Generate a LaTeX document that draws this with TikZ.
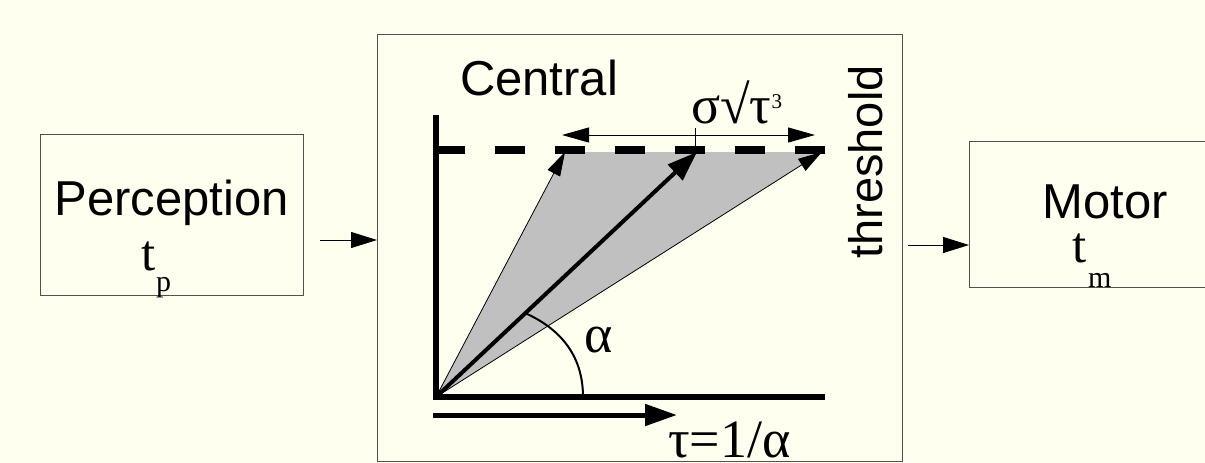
\documentclass[tikz,border=0pt]{standalone}
\usepackage{fontspec}
\setmainfont{Liberation Sans}
\newfontfamily\tnr{Liberation Serif}
\usetikzlibrary{arrows.meta}
\definecolor{bg}{HTML}{FFFFEF}
\definecolor{boxline}{HTML}{505050}
\definecolor{fan}{HTML}{C0C0C0}
\begin{document}
\begin{tikzpicture}[x=1pt,y=-1pt,
  sans/.style={font=\fontsize{49}{49}\selectfont, inner sep=0pt},
  serif/.style={font=\tnr\fontsize{54}{54}\selectfont, inner sep=0pt},
  box/.style={draw=boxline, line width=1pt, inner sep=0pt, anchor=north west},
  conn/.style={line width=1pt, -{Triangle[length=26pt,width=16pt]}},
  thinarrow/.style={line width=0.8pt, -{Triangle[length=24pt,width=14pt]}},
  thickarrow/.style={line width=4pt, -{Triangle[length=30pt,width=21pt]}},
  sub/.style={font=\tnr\fontsize{30}{30}\selectfont, inner sep=0pt, anchor=base west},
  tvar/.style={font=\tnr\fontsize{51}{51}\selectfont, inner sep=0pt, anchor=base west}
 ]
\fill[bg] (0,0) rectangle (1205,463);
\useasboundingbox (0,0) rectangle (1205,463);
\clip (0,0) rectangle (1205,463);

% boxes
\node[box, minimum width=263pt, minimum height=161pt] (perc) at (40,134) {};
\node[box, minimum width=525pt, minimum height=427pt] (central) at (377,34) {};
\node[box, minimum width=245pt, minimum height=146pt] (motor) at (969,141) {};

% connectors
\coordinate (pa) at (320,240);
\draw[conn] (pa) -- (central.west |- pa);
\coordinate (ma) at (908,245);
\draw[conn] (ma) -- (motor.west |- ma);

% box labels
\node[sans, anchor=base] (lperc) at (171.5,215) {Perception};
\node[tvar] (tp) at (141,270) {t};
\node[sub] (tpsub) at (156,291) {p};
\node[sans, anchor=base] (lcent) at (539,95) {Central};
\node[sans, anchor=base] (lmotor) at (1105.5,218) {Motor};
\node[tvar] (tm) at (1072,262) {t};
\node[sub] (tmsub) at (1088,287) {m};

% fan
\coordinate (O) at (436,397);
\coordinate (A) at (565,152);
\coordinate (B) at (697,152);
\coordinate (C) at (822,152);
\fill[fan] (O) -- (A) -- (C) -- cycle;

% threshold dashed line
\coordinate (d0) at (435,150);
\coordinate (d1) at (825,150);
\draw[line width=8pt, dash pattern=on 30pt off 30pt] (d0) -- (d1);

% arrows in fan
\draw[thinarrow] (O) -- (A);
\draw[thinarrow] (O) -- (C);
\draw[thickarrow] (O) -- (B);

% axes
\coordinate (ytop) at (436,115);
\coordinate (xend) at (825,397);
\draw[line width=6pt] (ytop) -- (O) -- (xend);

% angle arc
\coordinate (a0) at (583,397);
\coordinate (a1) at (525,313);
\draw[line width=2pt] (a0) .. controls (583,358) and (563,330) .. (a1);
\node[serif, anchor=base west] (lalpha) at (584,352) {α};

% spread arrow
\coordinate (s0) at (562,135);
\coordinate (s1) at (815,135);
\draw[line width=1pt, {Triangle[length=27pt,width=15pt]}-{Triangle[length=27pt,width=15pt]}] (s0) -- (s1);
\coordinate (k0) at (695,128);
\coordinate (k1) at (695,146);
\draw[line width=1pt] (k0) -- (k1);
\node[serif, anchor=base west] (lsigma) at (691,123) {σ√τ\raisebox{15pt}{\fontsize{21}{21}\selectfont 3}};

% threshold label
\node[sans, font=\fontsize{47}{47}\selectfont, rotate=90, anchor=base] (lthr) at (882,162) {threshold};

% time arrow
\coordinate (t0) at (433,415);
\coordinate (t1) at (677,415);
\draw[line width=5pt, -{Triangle[length=32pt,width=21pt]}] (t0) -- (t1);
\node[serif, anchor=base west] (ltau) at (668,457) {τ=1/α};
\end{tikzpicture}
\end{document}
